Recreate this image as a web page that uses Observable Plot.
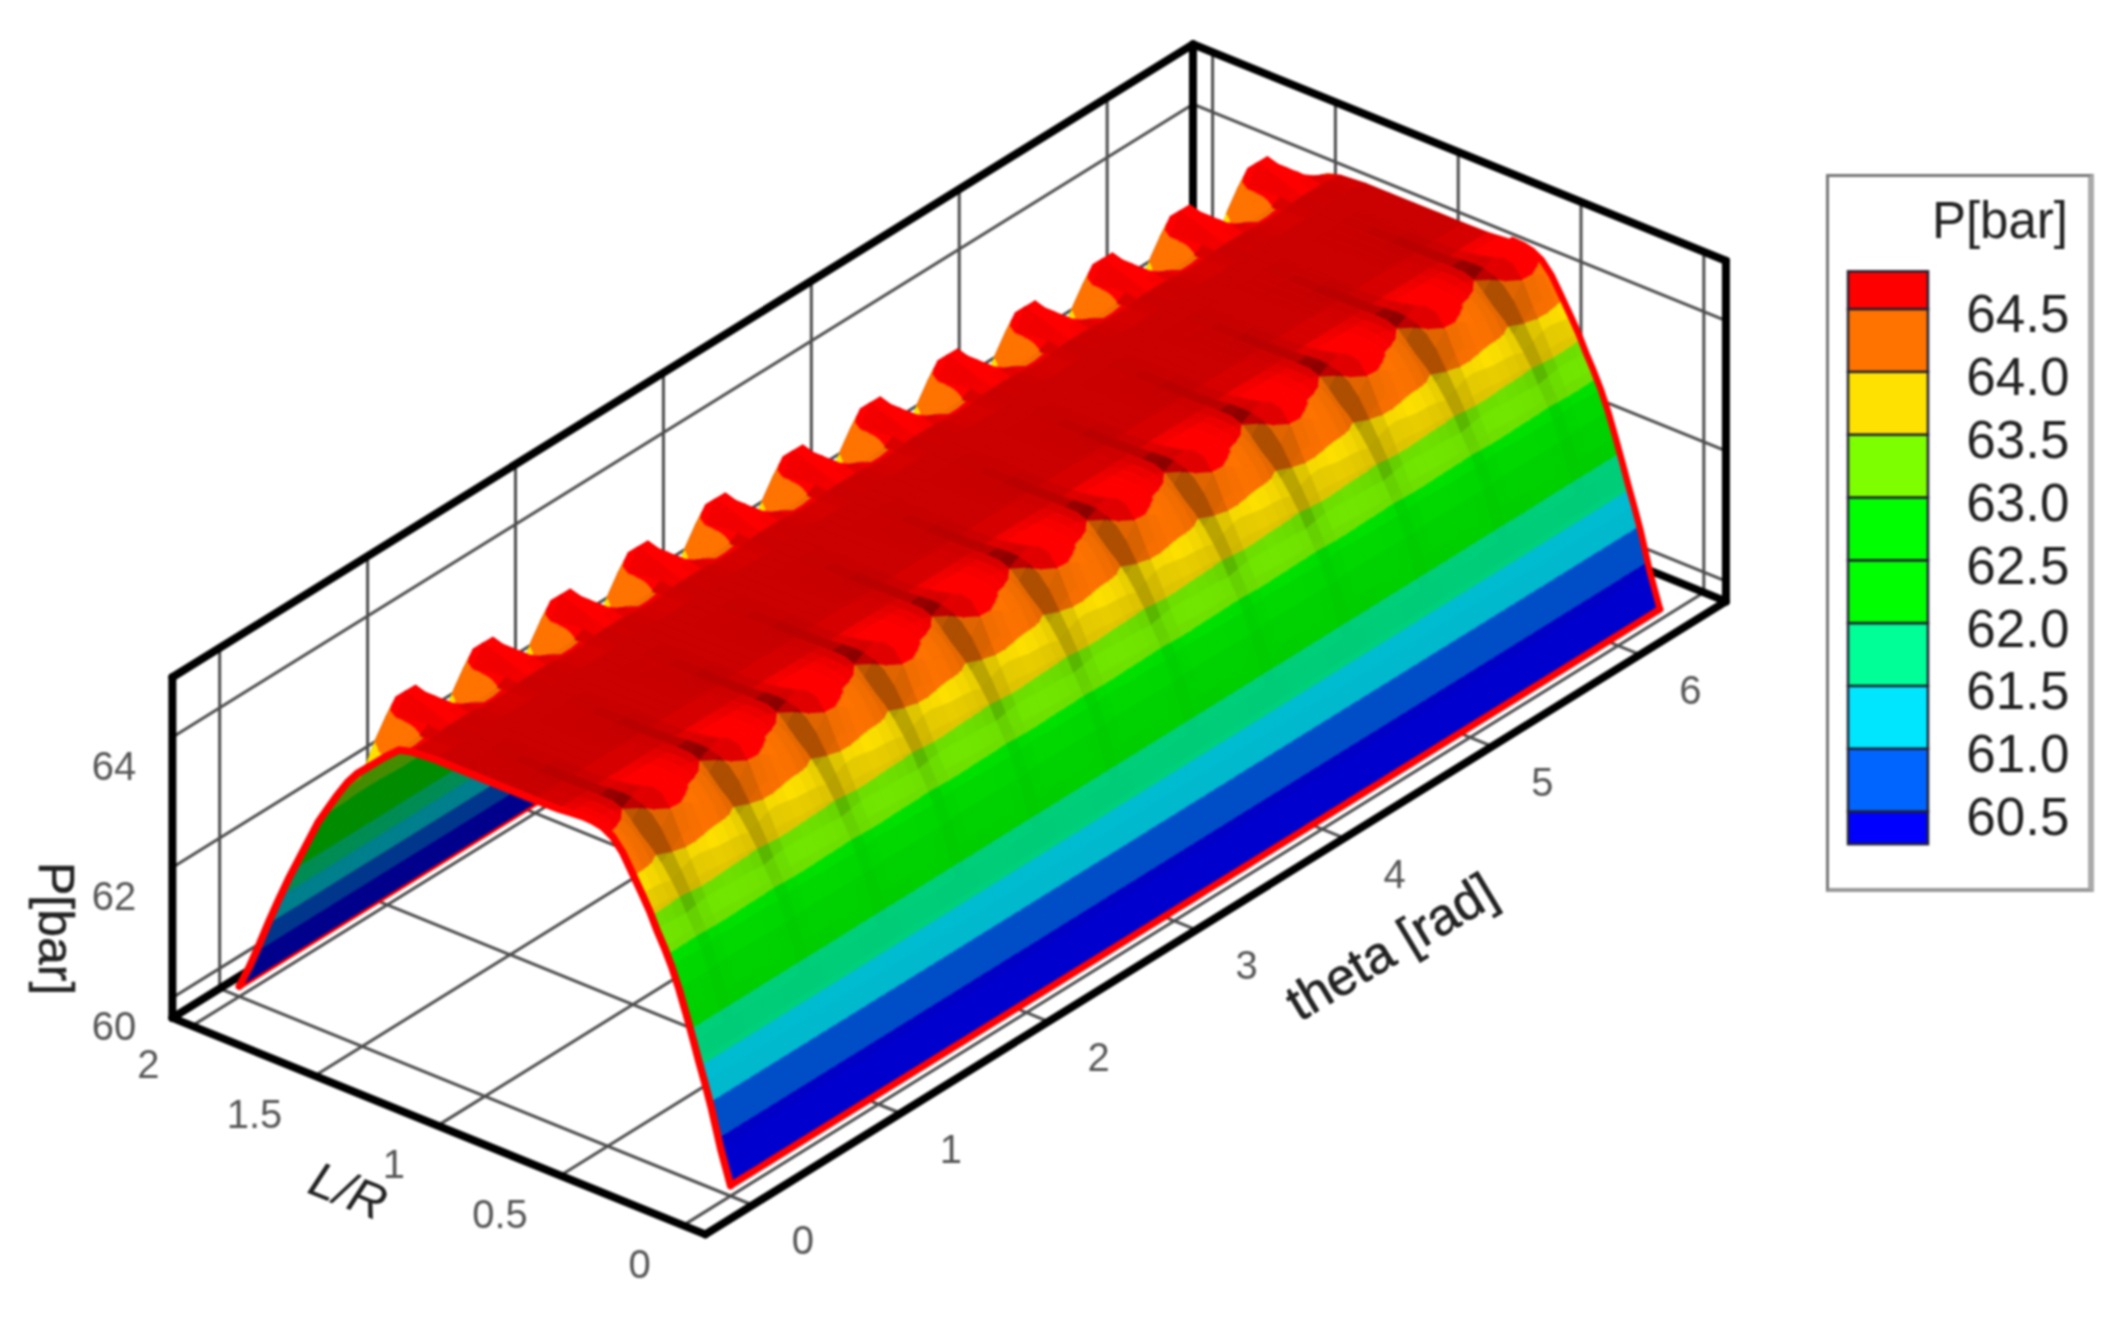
<!DOCTYPE html>
<html><head><meta charset="utf-8">
<script src="https://cdn.jsdelivr.net/npm/d3@7"></script>
<script src="https://cdn.jsdelivr.net/npm/@observablehq/plot@0.6"></script>
<style>
html,body{margin:0;padding:0;background:#fff;overflow:hidden;width:2127px;height:1318px;font-family:"Liberation Sans",Arial,sans-serif}
#chart{position:absolute;left:0;top:0}
#chart svg{filter:blur(1.1px);max-width:none}
#legend{position:absolute;left:1826px;top:174px;width:268px;height:718px;box-sizing:border-box;border:3px solid #777;border-right:6px solid #aaa;border-bottom:4px solid #999;background:#fff;filter:blur(1px)}
#legend .t{position:absolute;right:20px;top:18px;font-size:51px;color:#222;line-height:1}
#legend svg{position:absolute;left:-3px;top:-3px;max-width:none}
</style></head><body>
<div id="chart"></div>
<div id="legend"><div class="t">P[bar]</div></div>
<script>
// ---- data ----
const sectorStarts = [0,1,2,3,4,5,6,7,8,9,10,11];
const sectorWidth = 0.5236;
const phaseTheta = [0,0.0655,0.131,0.196,0.262,0.327,0.393,0.458];
const phaseRipple = [-0.05,-0.1,-0.2,-0.5,-0.1,0.3,0.35,0.15];
const backRipple = [0,0,0.05,0.5,0.8,0.8,0.6,0.28];
const phaseCrease = [0.02,0.05,0.1,0.32,0.12,0,0,0];
const lrNodes = [0,.02,.04,.06,.08,.105,.13,.15,.18,.21,.24,.27,.3,.33,.36,.4,.44,.48,.52,.56,.6,.65,.7,.8,.9,1,1.1,1.2,1.3,1.35,1.4,1.44,1.48,1.52,1.56,1.6,1.64,1.68,1.72,1.76,1.8,1.84,1.88,1.92,1.96,2];
const ridgeP = [59.85,60.1,60.35,60.65,60.95,61.27,61.57,61.83,62.2,62.55,62.85,63.1,63.32,63.57,63.78,64.05,64.32,64.5,64.58,64.6,64.6,64.58,64.56,64.55,64.55,64.55,64.55,64.55,64.52,64.47,64.3,64.15,64,63.85,63.65,63.4,63.13,62.85,62.5,62.15,61.8,61.42,61.02,60.6,60.2,59.85];
const rippleWeight = [0,0,0,0,0,0,0,0,.02,.03,.04,.06,.08,.12,.18,.3,.5,.6,.45,.2,.08,.03,0,0,0,0,0,0,0,0,0,0,0,0,0,0,0,0,0,0,0,0,0,0,0,0];
const backWeight = [0,0,0,0,0,0,0,0,0,0,0,0,0,0,0,0,0,0,0,0,0,0,0,0,0,0,0,0,.05,.2,.5,.75,1,1,.8,.4,.15,0,0,0,0,0,0,0,0,0];
const creaseWeight = [0,0,0,0,0,0,.03,.05,.08,.12,.2,.3,.6,.7,.85,1,1,1,.8,1.4,1.2,.6,.4,.25,.12,.05,0,0,0,0,0,0,0,0,0,0,0,0,0,0,0,0,0,0,0,0];
const shadeGain = [1,1,1,1,1,1,1,1,1,1,1,1,1,1,1.08,1.08,1.2,1.25,1.25,1.25,1.2,1.1,1.04,1,1,1,1,1,1.05,1.12,1.2,1.25,1.25,1.25,1.1,1,1,1,1,1,1,1,1,1,1,1];
const levels = [60.5,61,61.5,62,62.5,63,63.5,64,64.5];
const bandRGB = [[0,0,255],[0,100,255],[0,230,255],[0,255,150],[0,255,0],[0,255,0],[125,255,0],[255,225,0],[255,115,0],[255,0,0]];
const thetaTicks = [0,1,2,3,4,5,6];
const lrTicks = [0,0.5,1,1.5,2];
const lrTickLabels = ["0","0.5","1","1.5","2"];
const pTicks = [60,62,64];
const thetaBox = [-0.32,6.58];
const lrBox = [-0.09,2.08];
const pBox = [59.69,64.92];
const legendEdges = [60.24,60.5,61,61.5,62,62.5,63,63.5,64,64.5,64.8];
const legendLabels = ["60.5","61.0","61.5","62.0","62.5","63.0","63.5","64.0","64.5"];

// ---- oblique view of the 3-D axes ----
const S = 1.357;
const px = (t,l) => S*(538+109*t-181*l);
const py = (t,l,p) => S*(881-67.6*t-73.5*l-48*(p-pBox[0]));
const pt = (t,l,p,extra) => ({x:px(t,l),y:py(t,l,p),...extra});

// surface grid
const thetas = [];
sectorStarts.forEach(k=>phaseTheta.forEach(f=>thetas.push(k*sectorWidth+f)));
thetas.push(12*sectorWidth);
const phaseOf = i => i % phaseTheta.length;
const P = (i,j) => ridgeP[j]+rippleWeight[j]*phaseRipple[phaseOf(i)]+backWeight[j]*backRipple[phaseOf(i)];
const bandOf = p => d3.bisectLeft(levels,p);

function clip(poly,val,keepAbove){
  const out=[];
  for(let a=0;a<poly.length;a++){
    const u=poly[a],v=poly[(a+1)%poly.length];
    const ui=keepAbove?u.p>=val:u.p<=val, vi=keepAbove?v.p>=val:v.p<=val;
    if(ui) out.push(u);
    if(ui!==vi){const s=(val-u.p)/(v.p-u.p);out.push({t:u.t+s*(v.t-u.t),l:u.l+s*(v.l-u.l),p:val});}
  }
  return out;
}
const facets=[];
let fid=0;
const ref=d3.polygonArea([[px(0,0),py(0,0,60)],[px(1,0),py(1,0,60)],[px(1,1),py(1,1,60)],[px(0,1),py(0,1,60)]]);
for(let i=thetas.length-2;i>=0;i--){
  for(let j=lrNodes.length-2;j>=0;j--){
    const t0=thetas[i],t1=thetas[i+1],l0=lrNodes[j],l1=lrNodes[j+1];
    const q=[{t:t0,l:l0,p:P(i,j)},{t:t1,l:l0,p:P(i+1,j)},{t:t1,l:l1,p:P(i+1,j+1)},{t:t0,l:l1,p:P(i,j+1)}];
    const dT=((q[1].p-q[0].p)+(q[2].p-q[3].p))/2/(t1-t0);
    const dL=((q[3].p-q[0].p)+(q[2].p-q[1].p))/2/(l1-l0);
    const gT=-dT*0.08, gL=Math.abs(dL)*0.25, nn=Math.hypot(gT,gL,1);
    let shade=(0.12*gT+0.6*gL+0.8)/nn/1.007;
    shade=Math.max(0.45,Math.min(1,shade*shadeGain[j]));
    shade*=1-creaseWeight[j]*phaseCrease[phaseOf(i)];
    const area=d3.polygonArea(q.map(v=>[px(v.t,v.l),py(v.t,v.l,v.p)]));
    if(area*ref<0) shade=0.55;
    const ps=q.map(v=>v.p),lo=bandOf(d3.min(ps)),hi=bandOf(d3.max(ps));
    for(let b=lo;b<=hi;b++){
      let poly=q;
      if(b>0) poly=clip(poly,levels[b-1],true);
      if(b<levels.length&&poly.length) poly=clip(poly,levels[b],false);
      if(poly.length<3) continue;
      const c=bandRGB[b];
      const col=`rgb(${c.map(v=>Math.round(v*shade)).join(",")})`;
      fid++;
      poly.forEach(v=>facets.push(pt(v.t,v.l,v.p,{id:fid,col})));
    }
  }
}

// edges of the surface (red outline)
const edgeFront = lrNodes.map((l,j)=>pt(0,l,P(0,j)));
const lastI = thetas.length-1;
const edgeEnd = lrNodes.map((l,j)=>({l,...pt(thetas[lastI],l,P(lastI,j))})).filter(d=>d.l<=0.6);
const edgeLow = thetas.map(t=>pt(t,0,ridgeP[0]));
const edgeHigh = thetas.map(t=>pt(t,2,ridgeP[ridgeP.length-1]));

// grid lines
const grid=[];let gid=0;
const seg=(a,b)=>{gid++;grid.push({...a,id:gid},{...b,id:gid});};
thetaTicks.forEach(t=>{
  seg(pt(t,lrBox[0],pBox[0]),pt(t,lrBox[1],pBox[0]));
  seg(pt(t,lrBox[1],pBox[0]),pt(t,lrBox[1],pBox[1]));
});
lrTicks.forEach(l=>{
  seg(pt(thetaBox[0],l,pBox[0]),pt(thetaBox[1],l,pBox[0]));
  seg(pt(thetaBox[1],l,pBox[0]),pt(thetaBox[1],l,pBox[1]));
});
pTicks.forEach(p=>{
  seg(pt(thetaBox[0],lrBox[1],p),pt(thetaBox[1],lrBox[1],p));
  seg(pt(thetaBox[1],lrBox[1],p),pt(thetaBox[1],lrBox[0],p));
});
// heavy box edges
const box=[];let bid=0;
const bseg=(a,b)=>{bid++;box.push({...a,id:bid},{...b,id:bid});};
const [T0,T1]=thetaBox,[L0,L1]=lrBox,[P0,P1]=pBox;
bseg(pt(T0,L0,P0),pt(T1,L0,P0));bseg(pt(T0,L0,P0),pt(T0,L1,P0));
bseg(pt(T0,L1,P0),pt(T1,L1,P0));bseg(pt(T1,L0,P0),pt(T1,L1,P0));
bseg(pt(T0,L1,P0),pt(T0,L1,P1));bseg(pt(T1,L1,P0),pt(T1,L1,P1));bseg(pt(T1,L0,P0),pt(T1,L0,P1));
bseg(pt(T0,L1,P1),pt(T1,L1,P1));bseg(pt(T1,L1,P1),pt(T1,L0,P1));

// tick labels
const thetaLabels = thetaTicks.map(t=>({x:px(t,L0)+S*37,y:py(t,L0,P0)+S*27,s:String(t)}));
const lrLabels = lrTicks.map((l,i)=>({x:px(T0,l)-S*24,y:py(T0,l,P0)+S*29,s:lrTickLabels[i]}));
const pLabels = pTicks.map(p=>({x:px(T0,L1)-S*43,y:py(T0,L1,p)+S*22,s:String(p)}));
const fontFamily='"Liberation Sans",Arial,sans-serif';
const tickOpts={x:"x",y:"y",text:"s",fontSize:40,fill:"#555",fontFamily,textAnchor:"middle"};
const line=(d,o)=>Plot.line(d,{x:"x",y:"y",z:"id",...o});

const chart=Plot.plot({
  width:2127,height:1318,margin:0,
  x:{domain:[0,2127],range:[0,2127],axis:null},
  y:{domain:[0,1318],range:[0,1318],axis:null},
  marks:[
    line(grid,{stroke:"#4d4d4d",strokeWidth:3}),
    line(box,{stroke:"#000",strokeWidth:8,strokeLinecap:"round"}),
    Plot.line(edgeHigh,{x:"x",y:"y",stroke:"#f00",strokeWidth:7}),
    Plot.line(facets,{x:"x",y:"y",z:"id",fill:"col",stroke:"col",strokeWidth:1.5,strokeLinejoin:"round"}),
    Plot.line(edgeEnd,{x:"x",y:"y",stroke:"#f00",strokeWidth:6.5}),
    Plot.line(edgeLow,{x:"x",y:"y",stroke:"#f00",strokeWidth:7}),
    Plot.line(edgeFront,{x:"x",y:"y",stroke:"#f00",strokeWidth:7.5}),
    Plot.text(thetaLabels,tickOpts),
    Plot.text(lrLabels,{...tickOpts,textAnchor:"end"}),
    Plot.text(pLabels,tickOpts),
    Plot.text([{x:S*40,y:S*684,s:"P[bar]"}],{x:"x",y:"y",text:"s",rotate:90,fontSize:50,fill:"#222",stroke:"#222",strokeWidth:0.5,fontFamily}),
    Plot.text([{x:S*1025,y:S*698,s:"theta [rad]"}],{x:"x",y:"y",text:"s",rotate:-31,fontSize:52,fill:"#222",stroke:"#222",strokeWidth:0.7,fontFamily}),
    Plot.text([{x:S*256,y:S*878,s:"L/R"}],{x:"x",y:"y",text:"s",rotate:22,fontSize:50,fill:"#222",fontFamily,fontStyle:"italic"})
  ]
});
document.getElementById("chart").append(chart);

// legend
const cells=legendEdges.slice(0,-1).map((e,i)=>({y1:e,y2:legendEdges[i+1],col:`rgb(${bandRGB[i].join(",")})`}));
const labels=levels.map((v,i)=>({v,s:legendLabels[i]}));
const leg=Plot.plot({
  width:268,height:718,margin:0,
  x:{domain:[0,268],range:[0,268],axis:null},
  y:{domain:[60.5,64.5],range:[637.5,135],axis:null},
  marks:[
    Plot.rect(cells,{x1:()=>22,x2:()=>102,y1:"y1",y2:"y2",fill:"col",stroke:"#223",strokeWidth:2.5}),
    Plot.text(labels,{x:()=>243,y:"v",text:"s",textAnchor:"end",dy:6,fontSize:53,fill:"#222",fontFamily})
  ]
});
document.getElementById("legend").append(leg);
</script>
</body></html>
